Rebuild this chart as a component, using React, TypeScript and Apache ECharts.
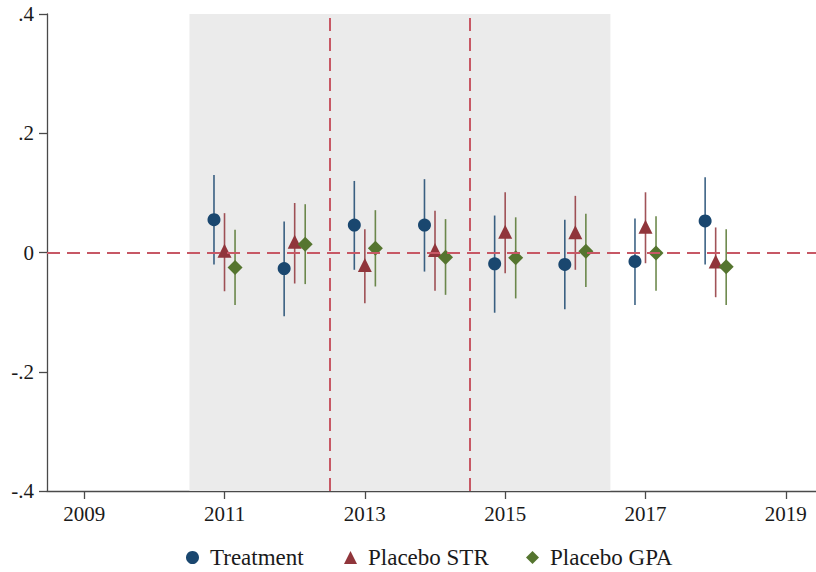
import * as echarts from 'echarts';
import { useEffect, useRef } from 'react';

// event-study style estimates with 95% CIs
const years = [2011, 2012, 2013, 2014, 2015, 2016, 2017, 2018];

const treatEst = [0.055, -0.027, 0.046, 0.046, -0.019, -0.02, -0.015, 0.053];
const treatLo = [-0.02, -0.107, -0.029, -0.032, -0.101, -0.095, -0.088, -0.02];
const treatHi = [0.13, 0.052, 0.12, 0.123, 0.062, 0.055, 0.057, 0.126];

const strEst = [0.003, 0.018, -0.021, 0.004, 0.035, 0.034, 0.043, -0.015];
const strLo = [-0.065, -0.052, -0.085, -0.064, -0.035, -0.029, -0.018, -0.075];
const strHi = [0.066, 0.083, 0.039, 0.07, 0.101, 0.095, 0.101, 0.042];

const gpaEst = [-0.025, 0.014, 0.007, -0.008, -0.009, 0.002, -0.001, -0.024];
const gpaLo = [-0.088, -0.053, -0.057, -0.071, -0.077, -0.058, -0.064, -0.088];
const gpaHi = [0.038, 0.081, 0.071, 0.056, 0.059, 0.065, 0.061, 0.039];

const xTicks = [2009, 2011, 2013, 2015, 2017, 2019];
const shadeRange = [2010.5, 2016.5];
const cutoffs = [2012.5, 2014.5];

const FONT = 'Liberation Serif';
const AXIS = '#4a4a4a';
const DASH = '#c75865';

function yLabel(v: number) {
  if (Math.abs(v) < 1e-9) return '0';
  const s = Math.abs(v).toFixed(1).replace(/^0/, '');
  return (v < 0 ? '-' : '') + s;
}

function makeGroup(name: string, color: string, symbol: string, size: number, shift: number, est: number[], lo: number[], hi: number[]) {
  const bars = years.map((y, i) => [y + shift, lo[i], hi[i]]);
  const pts = years.map((y, i) => [y + shift, est[i]]);
  return [
    {
      type: 'custom',
      name: name + ' CI',
      z: 3,
      silent: true,
      data: bars,
      renderItem: (_params: any, api: any) => {
        const a = api.coord([api.value(0), api.value(1)]);
        const b = api.coord([api.value(0), api.value(2)]);
        return {
          type: 'line',
          shape: { x1: a[0], y1: a[1], x2: b[0], y2: b[1] },
          style: { stroke: color, lineWidth: 1.6, opacity: 0.85 }
        };
      }
    },
    {
      type: 'scatter',
      name,
      z: 4,
      symbol,
      symbolSize: size,
      itemStyle: { color, opacity: 1 },
      data: pts
    }
  ];
}

// one legend box per entry so each can sit where the reference puts it
function legendItem(name: string, icon: string, left: number) {
  return {
    left,
    top: 541,
    itemWidth: 13,
    itemHeight: 13,
    textStyle: { fontFamily: FONT, fontSize: 23, color: '#1a1a1a', padding: [0, 0, 0, 6] },
    data: [{ name, icon }]
  };
}

export default function App() {
  const elRef = useRef<HTMLDivElement | null>(null);

  useEffect(() => {
    if (!elRef.current) return;
    const chart = echarts.init(elRef.current, undefined, { renderer: 'svg' });

    const option = {
      animation: false,
      backgroundColor: '#fff',
      textStyle: { fontFamily: FONT },
      grid: { left: 47, top: 14, right: 0, bottom: 81 },
      legend: [
        legendItem('Treatment', 'circle', 181),
        legendItem('Placebo STR', 'triangle', 339),
        legendItem('Placebo GPA', 'diamond', 521)
      ],
      xAxis: {
        type: 'value',
        min: 2008.47,
        max: 2019.43,
        splitLine: { show: false },
        axisLine: { onZero: false, lineStyle: { color: AXIS, width: 1.3 } },
        axisTick: { length: 8, customValues: xTicks, lineStyle: { color: AXIS, width: 1.3 } },
        axisLabel: {
          customValues: xTicks,
          margin: 12,
          fontSize: 21,
          fontFamily: FONT,
          color: '#1a1a1a',
          formatter: (v: number) => String(v)
        }
      },
      yAxis: {
        type: 'value',
        min: -0.4,
        max: 0.4,
        interval: 0.2,
        splitLine: { show: false },
        axisLine: { show: true, lineStyle: { color: AXIS, width: 1.3 } },
        axisTick: { show: true, length: 8, lineStyle: { color: AXIS, width: 1.3 } },
        axisLabel: { margin: 13, fontSize: 21, fontFamily: FONT, color: '#1a1a1a', formatter: yLabel }
      },
      series: [
        {
          type: 'scatter',
          name: '_ref',
          z: 1,
          silent: true,
          symbolSize: 0,
          data: [[2009, 0]],
          markArea: {
            silent: true,
            itemStyle: { color: '#ebebeb' },
            data: [[{ xAxis: shadeRange[0], yAxis: -0.4 }, { xAxis: shadeRange[1], yAxis: 0.4 }]]
          },
          markLine: {
            silent: true,
            symbol: 'none',
            label: { show: false },
            lineStyle: { color: DASH, type: [13, 7], width: 2 },
            data: [{ yAxis: 0 }, ...cutoffs.map((c) => ({ xAxis: c }))]
          }
        },
        ...makeGroup('Treatment', '#1a476f', 'circle', 13, -0.15, treatEst, treatLo, treatHi),
        ...makeGroup('Placebo STR', '#90353b', 'triangle', 14, 0, strEst, strLo, strHi),
        ...makeGroup('Placebo GPA', '#55752f', 'diamond', 15, 0.15, gpaEst, gpaLo, gpaHi)
      ]
    };

    chart.setOption(option as any);
    return () => chart.dispose();
  }, []);

  return <div ref={elRef} style={{ position: 'fixed', left: 0, top: 0, width: 816, height: 572 }} />;
}
